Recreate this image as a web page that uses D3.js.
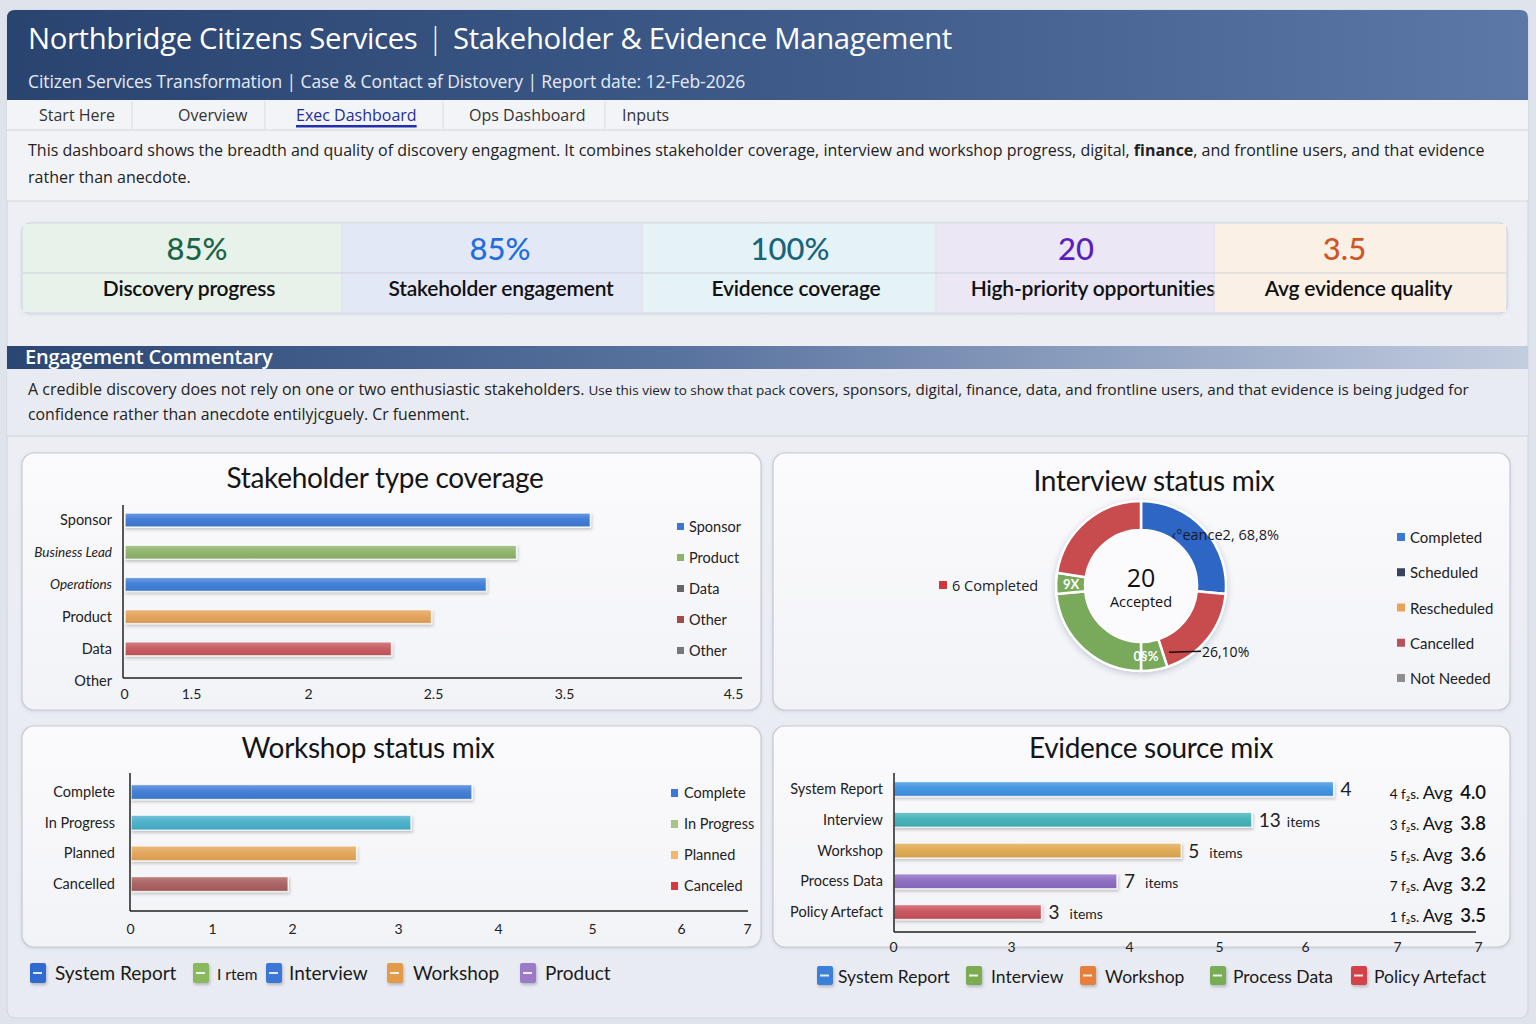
<!DOCTYPE html>
<html><head><meta charset="utf-8">
<script src="https://cdn.jsdelivr.net/npm/d3@7"></script>
<style>
html,body{margin:0;padding:0;background:#dde1ea;}
svg{display:block;}
</style></head><body>
<svg id="c" width="1536" height="1024" font-family="Lato, 'Noto Sans', sans-serif"></svg>
<script>
// ---------------- DATA ----------------
const titleMain = "Northbridge Citizens Services";
const titleSub = "Stakeholder & Evidence Management";
const subtitleParts = ["Citizen Services Transformation", "Case & Contact \u0259f Distovery", "Report date: 12-Feb-2026"];
const tabs = ["Start Here", "Overview", "Exec Dashboard", "Ops Dashboard", "Inputs"];
const activeTab = "Exec Dashboard";

const kpiValues = ["85%", "85%", "100%", "20", "3.5"];
const kpiLabels = ["Discovery progress", "Stakeholder engagement", "Evidence coverage", "High-priority opportunities", "Avg evidence quality"];

const stakeholderCats = ["Sponsor", "Business Lead", "Operations", "Product", "Data", "Other"];
const stakeholderVals = [3.65, 3.13, 2.9, 2.49, 2.33, 0];
const stakeholderTicks = [0, 1.5, 2, 2.5, 3.5, 4.5];
const stakeholderLegend = ["Sponsor", "Product", "Data", "Other", "Other"];

const interviewSlices = ["Completed", "Cancelled", "Accepted", "Accepted", "Accepted", "Cancelled"];
const interviewVals = [5.3, 3.7, 1.0, 4.7, 0.8, 4.5];
const interviewTotal = "20";
const interviewCenterLabel = "Accepted";
const interviewLegend = ["Completed", "Scheduled", "Rescheduled", "Cancelled", "Not Needed"];

const workshopCats = ["Complete", "In Progress", "Planned", "Cancelled"];
const workshopVals = [3.73, 3.12, 2.6, 1.94];
const workshopTicks = [0, 1, 2, 3, 4, 5, 6, 7];
const workshopLegend = ["Complete", "In Progress", "Planned", "Canceled"];

const evidenceCats = ["System Report", "Interview", "Workshop", "Process Data", "Policy Artefact"];
const evidenceVals = [6.30, 5.37, 4.57, 3.89, 3.25];
const evidenceTicks = [0, 3, 4, 5, 6, 7, 8];
const evidenceTickLabels = ["0", "3", "4", "5", "6", "7", "7"];
const evidenceCounts = ["4", "13", "5", "7", "3"];
const evidenceHasItems = [false, true, true, true, true];
const evidenceFiles = ["4", "3", "5", "7", "1"];
const evidenceAvg = ["4.0", "3.8", "3.6", "3.2", "3.5"];

const legendLeft = ["System Report", "I rtem", "Interview", "Workshop", "Product"];
const legendRight = ["System Report", "Interview", "Workshop", "Process Data", "Policy Artefact"];

// ---------------- STYLE ----------------
const OS = "'Open Sans', Lato, sans-serif";
const svg = d3.select("#c");
const defs = svg.append("defs");

function linGrad(id, stops, x2 = "100%", y2 = "0%") {
  const g = defs.append("linearGradient").attr("id", id).attr("x1", "0%").attr("y1", "0%").attr("x2", x2).attr("y2", y2);
  stops.forEach(s => g.append("stop").attr("offset", s[0]).attr("stop-color", s[1]));
}
linGrad("hdr", [["0%", "#2a4470"], ["55%", "#3f5c8b"], ["100%", "#5c78a6"]]);
linGrad("sec", [["0%", "#2b4673"], ["45%", "#5a74a0"], ["100%", "#c3cde0"]]);
linGrad("page", [["0%", "#eef0f5"], ["100%", "#e8ebf2"]], "0%", "100%");
linGrad("panel", [["0%", "#fbfbfd"], ["100%", "#f2f3f7"]], "0%", "100%");
linGrad("barShine", [["0%", "rgba(255,255,255,0.25)"], ["45%", "rgba(255,255,255,0.05)"], ["100%", "rgba(0,0,0,0.06)"]], "0%", "100%");

const sh = defs.append("filter").attr("id", "sh").attr("x", "-10%").attr("y", "-40%").attr("width", "130%").attr("height", "200%");
sh.append("feDropShadow").attr("dx", 1).attr("dy", 2).attr("stdDeviation", 1.6).attr("flood-color", "#000").attr("flood-opacity", 0.22);
const sh2 = defs.append("filter").attr("id", "sh2").attr("x", "-20%").attr("y", "-20%").attr("width", "140%").attr("height", "140%");
sh2.append("feDropShadow").attr("dx", 0).attr("dy", 2).attr("stdDeviation", 3).attr("flood-color", "#203050").attr("flood-opacity", 0.25);
const sh3 = defs.append("filter").attr("id", "sh3").attr("x", "-5%").attr("y", "-5%").attr("width", "110%").attr("height", "110%");
sh3.append("feDropShadow").attr("dx", 0).attr("dy", 1).attr("stdDeviation", 1.5).attr("flood-color", "#5a6480").attr("flood-opacity", 0.18);

// page container
svg.append("rect").attr("x", 0).attr("y", 0).attr("width", 1536).attr("height", 1024).attr("fill", "#dfe3ec");
svg.append("rect").attr("x", 7).attr("y", 10).attr("width", 1521).attr("height", 1008).attr("rx", 8).attr("fill", "url(#page)").attr("stroke", "#cfd4de");

// header
svg.append("path").attr("d", "M7,100 V18 Q7,10 15,10 H1520 Q1528,10 1528,18 V100 Z").attr("fill", "url(#hdr)");
const th = svg.append("text").attr("x", 28).attr("y", 49).attr("fill", "#fff").attr("font-size", 29.3).attr("font-family", OS).attr("letter-spacing", -0.35);
th.append("tspan").text(titleMain);
th.append("tspan").attr("dx", 10).attr("font-weight", 300).text("|");
th.append("tspan").attr("dx", 10).text(titleSub);
svg.append("text").attr("x", 28).attr("y", 88).attr("fill", "#e4ebf7").attr("font-size", 17.5).attr("font-family", OS).attr("letter-spacing", -0.1)
  .text(subtitleParts.join("  |  "));

// tabs
svg.append("rect").attr("x", 7).attr("y", 100).attr("width", 1521).attr("height", 30).attr("fill", "#f3f4f7");
svg.append("line").attr("x1", 7).attr("x2", 1528).attr("y1", 130).attr("y2", 130).attr("stroke", "#d3d7df");
const tabX = [39, 178, 296, 469, 622];
const tabSep = [132, 265, 443, 605];
tabSep.forEach(x => svg.append("line").attr("x1", x).attr("x2", x).attr("y1", 101).attr("y2", 129).attr("stroke", "#d8dbe2"));
tabs.forEach((t, i) => {
  const a = t === activeTab;
  const tt = svg.append("text").attr("x", tabX[i]).attr("y", 121).attr("font-size", 16).attr("fill", a ? "#1f2d9c" : "#333").attr("font-family", OS).text(t);
  if (a) {
    const w = tt.node().getComputedTextLength();
    svg.append("rect").attr("x", tabX[i]).attr("y", 125).attr("width", w).attr("height", 2.5).attr("fill", "#2230b0");
  }
});

// intro
svg.append("rect").attr("x", 7).attr("y", 131).attr("width", 1521).attr("height", 69).attr("fill", "#f2f3f6");
const intro = svg.append("text").attr("x", 28).attr("y", 156).attr("font-size", 16).attr("fill", "#222").attr("font-family", OS);
intro.append("tspan").text("This dashboard shows the breadth and quality of discovery engagment. It combines stakeholder coverage, interview and workshop progress, digital, ");
intro.append("tspan").attr("font-weight", 700).text("finance");
intro.append("tspan").text(", and frontline users, and that evidence");
svg.append("text").attr("x", 28).attr("y", 183).attr("font-size", 16).attr("fill", "#222").attr("font-family", OS).text("rather than anecdote.");
svg.append("line").attr("x1", 7).attr("x2", 1528).attr("y1", 201).attr("y2", 201).attr("stroke", "#d6d9e0");

// KPI strip
const kpiEdges = [22, 342, 642, 936, 1214, 1507];
const kpiFill = ["#e6f2ea", "#e3e8f7", "#e5f3f6", "#ebe7f4", "#fbf0e5"];
const kpiColor = ["#1d6446", "#1f6ee0", "#17657c", "#5a1ec0", "#cf5426"];
const kpiValOff = [15, 8, 1, 1, -16];
const kpiLabOff = [7, 9, 7, 18, -2];
const kpiG = svg.append("g");
kpiG.append("rect").attr("x", 22).attr("y", 223).attr("width", 1485).attr("height", 90).attr("rx", 8).attr("fill", "#f4f5f8").attr("stroke", "#cdd2dc").attr("filter", "url(#sh3)");
kpiValues.forEach((v, i) => {
  const x0 = kpiEdges[i], x1 = kpiEdges[i + 1];
  kpiG.append("rect").attr("x", x0 + 1).attr("y", 224).attr("width", x1 - x0 - 2).attr("height", 88).attr("fill", kpiFill[i]);
  if (i > 0) kpiG.append("line").attr("x1", x0).attr("x2", x0).attr("y1", 224).attr("y2", 312).attr("stroke", "#d2d6e0");
  const cx = (x0 + x1) / 2;
  kpiG.append("text").attr("x", cx + kpiValOff[i]).attr("y", 260).attr("text-anchor", "middle").attr("font-size", 31).attr("fill", kpiColor[i]).attr("font-weight", 500).text(v);
  kpiG.append("text").attr("x", cx + kpiLabOff[i]).attr("y", 296).attr("text-anchor", "middle").attr("font-size", 21).attr("fill", "#111").attr("font-weight", 600).attr("letter-spacing", -0.2).text(kpiLabels[i]);
});
kpiG.append("line").attr("x1", 23).attr("x2", 1506).attr("y1", 273).attr("y2", 273).attr("stroke", "#cdd1db");

// Commentary section
svg.append("rect").attr("x", 7).attr("y", 346).attr("width", 1521).attr("height", 23).attr("fill", "url(#sec)");
svg.append("text").attr("x", 25).attr("y", 364).attr("fill", "#fff").attr("font-size", 20).attr("font-weight", 600).attr("font-family", OS).attr("letter-spacing", -0.2).text("Engagement Commentary");
svg.append("rect").attr("x", 7).attr("y", 369).attr("width", 1521).attr("height", 67).attr("fill", "#e9ebf2");
svg.append("line").attr("x1", 7).attr("x2", 1528).attr("y1", 436).attr("y2", 436).attr("stroke", "#d0d4de");
const cm = svg.append("text").attr("x", 28).attr("y", 395).attr("fill", "#222").attr("font-family", OS);
cm.append("tspan").attr("font-size", 16).text("A credible discovery does not rely on one or two enthusiastic stakeholders.");
cm.append("tspan").attr("font-size", 13.5).attr("dx", 4).text("Use this view to show that pack ");
cm.append("tspan").attr("font-size", 15.2).text(" covers, sponsors, digital, finance, data, and frontline users, and that evidence is being judged for");
svg.append("text").attr("x", 28).attr("y", 420).attr("font-size", 15.8).attr("fill", "#222").attr("font-family", OS)
  .text("confidence rather than anecdote entilyjcguely. Cr fuenment.");

// Panels
function panel(x, y, w, h) {
  svg.append("rect").attr("x", x).attr("y", y).attr("width", w).attr("height", h).attr("rx", 12).attr("fill", "url(#panel)").attr("stroke", "#c5cad5").attr("stroke-width", 1.2).attr("filter", "url(#sh3)");
}
panel(22, 453, 739, 257);
panel(773, 453, 737, 257);
panel(22, 726, 739, 221);
panel(773, 726, 737, 221);

function title(t, x, y) {
  svg.append("text").attr("x", x).attr("y", y).attr("text-anchor", "middle").attr("font-size", 28).attr("fill", "#151515").attr("letter-spacing", -0.3).text(t);
}

function drawBars(g, yScale, xScale, cats, vals, colors, h) {
  const rows = cats.map((c, i) => ({ c, v: vals[i], col: colors[i] })).filter(d => d.v > 0);
  g.selectAll(".bar").data(rows)
    .join("rect").attr("x", xScale(0) + 1).attr("y", d => yScale(d.c) - h / 2)
    .attr("width", d => xScale(d.v) - xScale(0)).attr("height", h)
    .attr("fill", d => d.col).attr("stroke", "rgba(255,255,255,0.85)").attr("stroke-width", 1.4).attr("filter", "url(#sh)");
  g.selectAll(".shine").data(rows)
    .join("rect").attr("x", xScale(0) + 1).attr("y", d => yScale(d.c) - h / 2)
    .attr("width", d => xScale(d.v) - xScale(0)).attr("height", h).attr("fill", "url(#barShine)");
}

// ---- Stakeholder chart ----
title("Stakeholder type coverage", 385, 488);
{
  const g = svg.append("g");
  const x = d3.scaleLinear().domain(stakeholderTicks).range([124, 191, 308, 433, 564, 733]);
  const y = d3.scalePoint().domain(stakeholderCats).range([520, 681]);
  const cols = ["#3b78d6", "#8db36a", "#3b7bd8", "#e2a057", "#c5575c", "#888"];
  drawBars(g, y, x, stakeholderCats, stakeholderVals, cols, 14);
  g.append("line").attr("x1", 123).attr("x2", 123).attr("y1", 505).attr("y2", 678).attr("stroke", "#222").attr("stroke-width", 1.5);
  g.append("line").attr("x1", 123).attr("x2", 742).attr("y1", 678).attr("y2", 678).attr("stroke", "#222").attr("stroke-width", 1.5);
  const ax = g.append("g").attr("transform", "translate(0,686)").call(d3.axisBottom(x).tickValues(stakeholderTicks).tickSize(0).tickFormat(d => String(d)));
  ax.select(".domain").remove();
  ax.selectAll("text").attr("font-size", 14).attr("fill", "#222").attr("font-family", "Lato,sans-serif");
  const italic = { "Business Lead": true, "Operations": true };
  const ay = g.append("g").attr("transform", "translate(115,0)").call(d3.axisLeft(y).tickSize(0));
  ay.select(".domain").remove();
  ay.selectAll("text").attr("font-size", d => italic[d] ? 13.5 : 14.5).attr("font-style", d => italic[d] ? "italic" : "normal").attr("fill", "#222").attr("font-family", "Lato,sans-serif");
  const ly = d3.scalePoint().domain(d3.range(stakeholderLegend.length)).range([527, 651]);
  const lc = ["#3b78d6", "#8db36a", "#666", "#a24a4c", "#777"];
  stakeholderLegend.forEach((l, i) => {
    g.append("rect").attr("x", 677).attr("y", ly(i) - 4).attr("width", 7).attr("height", 7).attr("fill", lc[i]);
    g.append("text").attr("x", 689).attr("y", ly(i) + 5).attr("font-size", 14.5).attr("fill", "#222").text(l);
  });
}

// ---- Interview donut ----
title("Interview status mix", 1154, 491);
{
  const cx = 1141, cy = 586;
  const g = svg.append("g").attr("transform", `translate(${cx},${cy})`);
  const cols = { "Completed": "#2e66c6", "Cancelled": "#c84c4e", "Accepted": "#79a95b" };
  const pie = d3.pie().sort(null).value(d => d.v);
  const arcs = pie(interviewSlices.map((s, i) => ({ s, v: interviewVals[i] })));
  const arc = d3.arc().innerRadius(56).outerRadius(85);
  g.append("circle").attr("r", 86).attr("fill", "#fff").attr("filter", "url(#sh2)");
  g.selectAll("path").data(arcs).join("path").attr("d", arc).attr("fill", d => cols[d.data.s]).attr("stroke", "#fff").attr("stroke-width", 2.5);
  g.append("circle").attr("r", 56).attr("fill", "#fbfbfd");
  g.append("text").attr("y", 1).attr("text-anchor", "middle").attr("font-size", 25).attr("fill", "#111").attr("font-family", OS).text(interviewTotal);
  g.append("text").attr("y", 21).attr("text-anchor", "middle").attr("font-size", 14.5).attr("fill", "#111").attr("font-family", OS).text(interviewCenterLabel);
  // slice labels
  const lab = d3.arc().innerRadius(70).outerRadius(70);
  const smallC = lab.centroid(arcs[4]);
  g.append("text").attr("x", smallC[0]).attr("y", smallC[1] + 5).attr("text-anchor", "middle").attr("font-size", 13).attr("fill", "#fff").attr("font-weight", 700).text("9X");
  const botC = lab.centroid(arcs[2]);
  g.append("text").attr("x", botC[0] - 6).attr("y", botC[1] + 6).attr("text-anchor", "middle").attr("font-size", 13).attr("fill", "#fff").attr("font-weight", 700).text("0\u00a7%");
  const topC = d3.arc().innerRadius(62).outerRadius(62).centroid(arcs[0]);
  g.append("text").attr("x", topC[0] - 15).attr("y", topC[1] - 4).attr("font-size", 14.5).attr("fill", "#1a1a2a").attr("font-family", OS).text("\u2039\u00b0eance2, 68,8%");
  const redC = d3.arc().innerRadius(82).outerRadius(82).centroid(arcs[1]);
  g.append("line").attr("x1", redC[0] - 36).attr("y1", redC[1] + 15).attr("x2", redC[0] - 4).attr("y2", redC[1] + 14).attr("stroke", "#111").attr("stroke-width", 1.5);
  g.append("text").attr("x", redC[0] - 3).attr("y", redC[1] + 20).attr("font-size", 14).attr("fill", "#111").attr("font-family", OS).text("26,10%");
  g.append("rect").attr("x", -202).attr("y", -5).attr("width", 8).attr("height", 8).attr("fill", "#d0373a");
  g.append("text").attr("x", -189).attr("y", 5).attr("font-size", 14.5).attr("fill", "#222").attr("font-family", OS).text("6  Completed");
  // legend
  const ly = d3.scalePoint().domain(interviewLegend).range([538, 679]);
  const lc = ["#3a7ad6", "#39435d", "#e8a356", "#b8525a", "#8d8d8d"];
  interviewLegend.forEach((l, i) => {
    svg.append("rect").attr("x", 1397).attr("y", ly(l) - 5).attr("width", 8).attr("height", 8).attr("fill", lc[i]);
    svg.append("text").attr("x", 1410).attr("y", ly(l) + 5).attr("font-size", 15).attr("fill", "#222").text(l);
  });
}

// ---- Workshop chart ----
title("Workshop status mix", 368, 758);
{
  const g = svg.append("g");
  const x = d3.scaleLinear().domain(workshopTicks).range([130, 212, 292, 398, 498, 592, 681, 747]);
  const y = d3.scalePoint().domain(workshopCats).range([792, 884]);
  const cols = ["#3c7ad4", "#45aecb", "#e3a456", "#a85b5c"];
  drawBars(g, y, x, workshopCats, workshopVals, cols, 15);
  g.append("line").attr("x1", 130).attr("x2", 130).attr("y1", 773).attr("y2", 911).attr("stroke", "#222").attr("stroke-width", 1.5);
  g.append("line").attr("x1", 130).attr("x2", 748).attr("y1", 911).attr("y2", 911).attr("stroke", "#222").attr("stroke-width", 1.5);
  const ax = g.append("g").attr("transform", "translate(0,921)").call(d3.axisBottom(x).tickValues(workshopTicks).tickSize(0).tickFormat(d3.format("d")));
  ax.select(".domain").remove();
  ax.selectAll("text").attr("font-size", 14).attr("fill", "#222").attr("font-family", "Lato,sans-serif");
  const ay = g.append("g").attr("transform", "translate(118,0)").call(d3.axisLeft(y).tickSize(0));
  ay.select(".domain").remove();
  ay.selectAll("text").attr("font-size", 14.5).attr("fill", "#222").attr("font-family", "Lato,sans-serif");
  const ly = d3.scalePoint().domain(workshopLegend).range([793, 886]);
  const lc = ["#3a7ad6", "#a6c486", "#f2b870", "#d83a3e"];
  workshopLegend.forEach((l, i) => {
    g.append("rect").attr("x", 671).attr("y", ly(l) - 4).attr("width", 7).attr("height", 8).attr("fill", lc[i]);
    g.append("text").attr("x", 684).attr("y", ly(l) + 5).attr("font-size", 14.5).attr("fill", "#222").text(l);
  });
}

// ---- Evidence chart ----
title("Evidence source mix", 1151, 758);
{
  const g = svg.append("g");
  const x = d3.scaleLinear().domain(evidenceTicks).range([893, 1011, 1129, 1219, 1305, 1397, 1478]);
  const y = d3.scalePoint().domain(evidenceCats).range([789, 912]);
  const cols = ["#3a91df", "#3fb0b8", "#e0a84f", "#8a69c1", "#c8505a"];
  drawBars(g, y, x, evidenceCats, evidenceVals, cols, 15);
  g.append("line").attr("x1", 894).attr("x2", 894).attr("y1", 773).attr("y2", 932).attr("stroke", "#222").attr("stroke-width", 1.5);
  g.append("line").attr("x1", 894).attr("x2", 1476).attr("y1", 932).attr("y2", 932).attr("stroke", "#222").attr("stroke-width", 1.5);
  const ax = g.append("g").attr("transform", "translate(0,939)").call(d3.axisBottom(x).tickValues(evidenceTicks).tickSize(0).tickFormat((d, i) => evidenceTickLabels[i]));
  ax.select(".domain").remove();
  ax.selectAll("text").attr("font-size", 14).attr("fill", "#222").attr("font-family", "Lato,sans-serif");
  const ay = g.append("g").attr("transform", "translate(886,0)").call(d3.axisLeft(y).tickSize(0));
  ay.select(".domain").remove();
  ay.selectAll("text").attr("font-size", 14.5).attr("fill", "#222").attr("font-family", "Lato,sans-serif");
  evidenceCats.forEach((c, i) => {
    const t = g.append("text").attr("x", x(evidenceVals[i]) + 8).attr("y", y(c) + 7).attr("fill", "#222");
    t.append("tspan").attr("font-size", 19).text(evidenceCounts[i]);
    if (evidenceHasItems[i]) t.append("tspan").attr("dx", i === 1 ? 6 : 10).attr("font-size", 14).text("items");
    const r = g.append("text").attr("x", 1486).attr("y", y(c) + 10).attr("text-anchor", "end").attr("fill", "#111");
    r.append("tspan").attr("font-size", 13.5).text(evidenceFiles[i] + " f\u2082s. ");
    r.append("tspan").attr("font-size", 18).text("Avg ");
    r.append("tspan").attr("font-size", 18.5).attr("font-weight", 600).attr("dx", 3).text(evidenceAvg[i]);
  });
}

// ---- Bottom legends ----
function icon(x, y, col, w = 16, h = 20) {
  svg.append("rect").attr("x", x).attr("y", y).attr("width", w).attr("height", h).attr("rx", 2).attr("fill", col).attr("filter", "url(#sh)");
  svg.append("rect").attr("x", x + 3).attr("y", y + h / 2 - 1).attr("width", w - 7).attr("height", 2).attr("fill", "rgba(255,255,255,0.85)");
}
{
  const ix = [30, 193, 266, 387, 520];
  const tx = [55, 217, 289, 413, 545];
  const cols = ["#2f6bd0", "#8ab85c", "#3a78d6", "#e39a4a", "#9b7ac8"];
  legendLeft.forEach((l, i) => {
    icon(ix[i], 963, cols[i]);
    svg.append("text").attr("x", tx[i]).attr("y", 980).attr("font-size", i === 1 ? 15.5 : 19).attr("fill", "#1a1a1a").text(l);
  });
}
{
  const ix = [817, 966, 1080, 1210, 1351];
  const tx = [838, 991, 1105, 1233, 1374];
  const cols = ["#3b7fd8", "#7cab52", "#e57f3a", "#78ad55", "#d34348"];
  legendRight.forEach((l, i) => {
    icon(ix[i], 966, cols[i], 16, 19);
    svg.append("text").attr("x", tx[i]).attr("y", 983).attr("font-size", 17.5).attr("fill", "#1a1a1a").text(l);
  });
}
</script>
</body></html>
